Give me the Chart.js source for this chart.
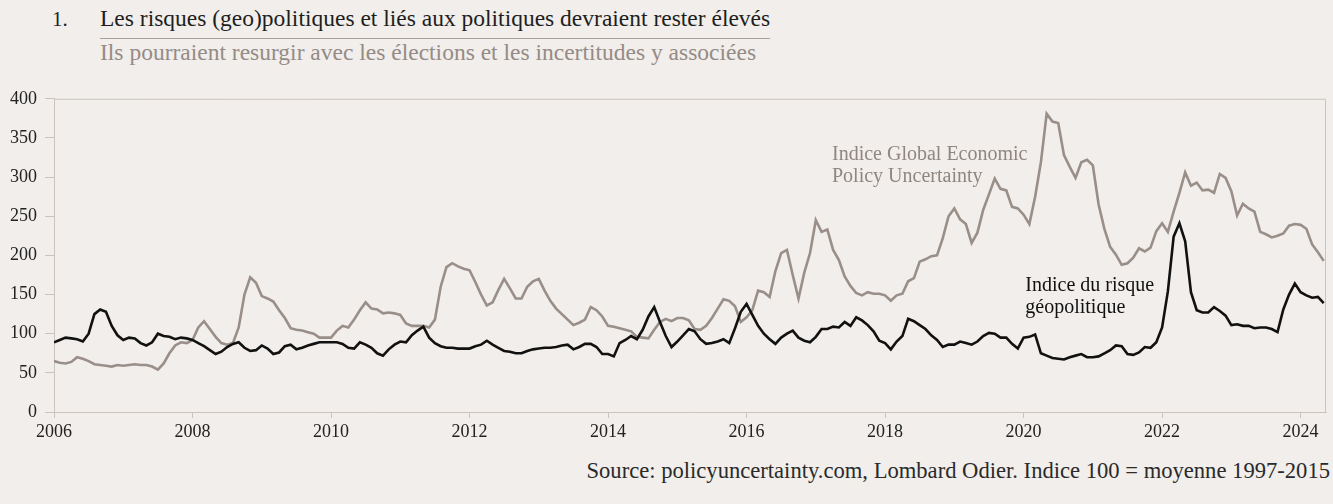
<!DOCTYPE html>
<html>
<head>
<meta charset="utf-8">
<script src="https://cdn.jsdelivr.net/npm/chart.js@4.4.1/dist/chart.umd.min.js"></script>
<style>
  html, body { margin: 0; padding: 0; background: #f1eeeb; }
  body { width: 1333px; height: 504px; position: relative; overflow: hidden; font-family: "Liberation Serif", serif; }
  #num { position: absolute; left: 52px; top: 7px; font-size: 21px; color: #222; }
  #title { position: absolute; left: 100px; top: 5px; font-size: 23.5px; color: #1e1e1e; padding-bottom: 6px; border-bottom: 1px solid #a9a09a; white-space: nowrap; }
  #sub { position: absolute; left: 100px; top: 39px; font-size: 23.5px; color: #958b86; white-space: nowrap; }
  #wrap { position: absolute; left: 0; top: 80px; width: 1333px; height: 362px; }
  #source { position: absolute; right: 3px; top: 458px; font-size: 22.6px; color: #2a2a2a; white-space: nowrap; }
</style>
</head>
<body>
<div id="num">1.</div>
<div id="title">Les risques (geo)politiques et liés aux politiques devraient rester élevés</div>
<div id="sub">Ils pourraient resurgir avec les élections et les incertitudes y associées</div>
<div id="wrap"><canvas id="chart"></canvas></div>
<div id="source">Source: policyuncertainty.com, Lombard Odier. Indice 100 = moyenne 1997-2015</div>
<script>
// mensuel, janv. 2006 -> mai 2024
const gpr = [
  89, 92, 95, 94, 93, 90, 100, 125, 131, 128, 110, 98,
  92, 95, 94, 88, 85, 89, 100, 97, 96, 93, 95, 94,
  92, 88, 84, 79, 74, 77, 83, 87, 89, 82, 78, 79,
  85, 81, 74, 76, 84, 86, 80, 82, 85, 87, 89, 89,
  89, 89, 87, 82, 81, 89, 86, 82, 75, 72, 80, 86,
  90, 89, 98, 104, 109, 95, 88, 84, 82, 82, 81, 81,
  81, 84, 86, 91, 86, 82, 78, 77, 75, 75, 78, 80,
  81, 82, 82, 83, 85, 86, 80, 83, 87, 87, 83, 74,
  74, 71, 88, 92, 97, 93, 105, 122, 134, 115, 97, 83,
  90, 98, 106, 103, 93, 87, 88, 90, 93, 88, 107, 128,
  138, 124, 110, 100, 93, 87, 95, 100, 104, 95, 91, 89,
  96, 106, 106, 109, 108, 115, 110, 121, 117, 111, 103, 91,
  88, 80, 90, 97, 119, 116, 111, 106, 98, 92, 83, 86,
  86, 90, 88, 86, 90, 97, 101, 100, 95, 95, 87, 81,
  95, 96, 99, 75, 72, 69, 68, 67, 70, 72, 74, 70,
  70, 71, 75, 79, 85, 84, 74, 73, 76, 83, 82, 89,
  108, 154, 224, 241, 218, 153, 130, 127, 127, 134, 129, 123,
  111, 112, 110, 110, 107, 108, 108, 106, 102, 131, 150, 164,
  153, 149, 146, 147, 139
];
const epu = [
  65, 63, 62, 64, 70, 68, 65, 61, 60, 59, 58, 60,
  59, 60, 61, 60, 60, 58, 54, 62, 75, 85, 89, 88,
  92, 108, 116, 106, 96, 88, 86, 88, 108, 150, 172, 165,
  148, 145, 141, 130, 120, 107, 105, 104, 102, 100, 95, 95,
  95, 104, 110, 108, 118, 130, 140, 132, 131, 126, 127, 126,
  124, 113, 110, 110, 110, 108, 118, 160, 185, 190, 186, 183,
  181, 166, 150, 136, 140, 156, 170, 158, 145, 145, 160, 167,
  170, 155, 142, 132, 125, 118, 111, 114, 118, 134, 130, 122,
  110, 109, 107, 105, 103, 96, 95, 94, 105, 115, 119, 116,
  120, 120, 117, 106, 105, 110, 120, 132, 144, 142, 135, 115,
  121, 130, 155, 153, 147, 180, 203, 207, 175, 145, 178, 203,
  245, 230, 233, 207, 194, 173, 161, 152, 149, 153, 151, 151,
  149, 142, 149, 151, 167, 171, 192, 195, 199, 200, 222, 250,
  260, 246, 240, 216, 229, 258, 278, 298, 285, 283, 262, 260,
  252, 240, 275, 319, 381, 371, 369, 328, 313, 299, 319, 322,
  315, 265, 234, 211, 201, 188, 190, 197, 209, 205, 210, 231,
  241, 230, 256, 280, 306, 289, 293, 283, 284, 280, 304, 299,
  282, 251, 266, 260, 256, 230, 227, 223, 225, 228, 238, 240,
  239, 234, 214, 204, 193
];
const tickMonths = [0, 24, 48, 72, 96, 120, 144, 168, 192, 216];
const tickLabels = ['2006', '2008', '2010', '2012', '2014', '2016', '2018', '2020', '2022', '2024'];
const yTicks = [0, 50, 100, 150, 200, 250, 300, 350, 400];

const serif = '"Liberation Serif", serif';
const axisCol = '#cbc3be';

// cadre haut + droite
const frame = {
  id: 'frame',
  beforeDatasetsDraw(chart) {
    const a = chart.chartArea, c = chart.ctx;
    c.save();
    c.strokeStyle = axisCol;
    c.lineWidth = 1;
    c.beginPath();
    c.moveTo(a.left, a.top + 0.5);
    c.lineTo(a.right - 0.5, a.top + 0.5);
    c.lineTo(a.right - 0.5, a.bottom);
    c.stroke();
    c.restore();
  }
};

// étiquettes des séries
const notes = {
  id: 'notes',
  afterDatasetsDraw(chart) {
    const c = chart.ctx, x = chart.scales.x, y = chart.scales.y;
    c.save();
    c.font = '20px ' + serif;
    c.textBaseline = 'middle';
    c.textAlign = 'left';
    c.fillStyle = '#8f8680';
    let px = x.getPixelForValue(134.8), py = y.getPixelForValue(329);
    c.fillText('Indice Global Economic', px, py);
    c.fillText('Policy Uncertainty', px, py + 22);
    c.fillStyle = '#111';
    px = x.getPixelForValue(168.3); py = y.getPixelForValue(161);
    c.fillText('Indice du risque', px, py);
    c.fillText('géopolitique', px, py + 22);
    c.restore();
  }
};

const ctx = document.getElementById('chart');
new Chart(ctx, {
  type: 'line',
  data: {
    datasets: [{
      label: 'Indice du risque géopolitique',
      data: gpr.map((v, i) => ({ x: i, y: v })),
      borderColor: '#111111',
      borderWidth: 2.6,
      pointRadius: 0,
      tension: 0,
    }, {
      label: 'Indice Global Economic Policy Uncertainty',
      data: epu.map((v, i) => ({ x: i, y: v })),
      borderColor: '#998e88',
      borderWidth: 2.6,
      pointRadius: 0,
      tension: 0,
    }],
  },
  options: {
    responsive: true,
    maintainAspectRatio: false,
    animation: false,
    layout: { padding: { top: 16, right: 7, left: 0, bottom: 0 } },
    plugins: { legend: { display: false }, tooltip: { enabled: false } },
    scales: {
      x: {
        type: 'linear',
        min: 0,
        max: 220.4,
        afterBuildTicks: s => { s.ticks = tickMonths.map(v => ({ value: v })); },
        afterFit: s => { s.height = 30; },
        ticks: {
          autoSkip: false,
          maxRotation: 0,
          padding: 3,
          color: '#222',
          font: { family: serif, size: 18 },
          callback: (v, i) => tickLabels[i],
        },
        grid: { drawOnChartArea: false, tickLength: 6, tickColor: axisCol },
        border: { color: axisCol },
      },
      y: {
        min: 0,
        max: 400,
        afterBuildTicks: s => { s.ticks = yTicks.map(v => ({ value: v })); },
        afterFit: s => { s.width = 54; },
        ticks: {
          padding: 8,
          color: '#222',
          font: { family: serif, size: 18 },
        },
        grid: { drawOnChartArea: false, tickLength: 9, tickColor: axisCol },
        border: { color: axisCol },
      },
    },
  },
  plugins: [frame, notes],
});
</script>
</body>
</html>
